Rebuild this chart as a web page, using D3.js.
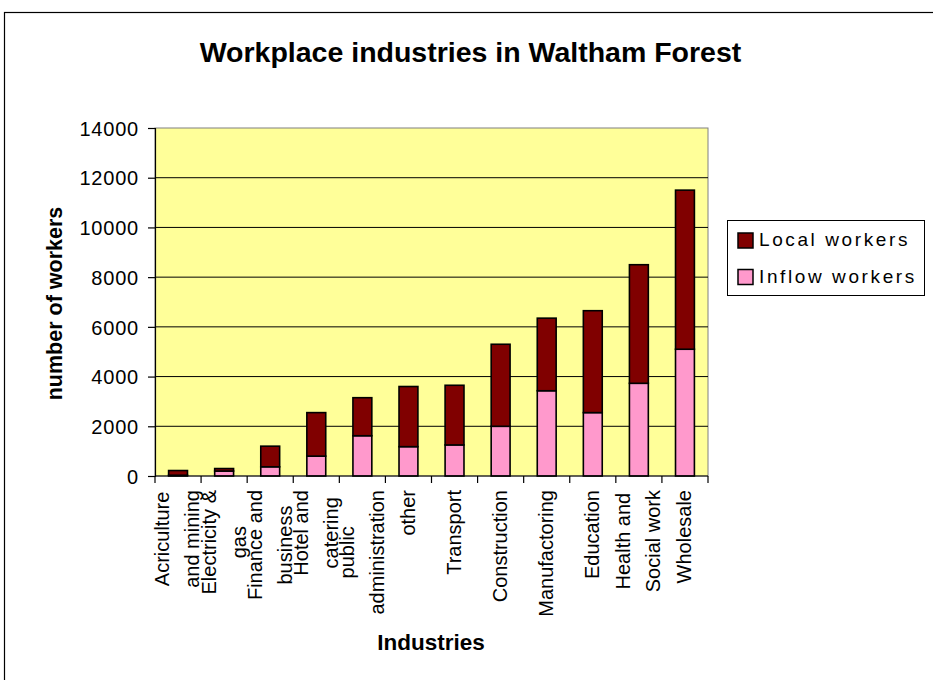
<!DOCTYPE html>
<html><head><meta charset="utf-8">
<script src="https://cdn.jsdelivr.net/npm/d3@7"></script>
<style>body{margin:0;background:#fff}svg{display:block}text{font-family:"Liberation Sans",Arial,sans-serif;fill:#000}</style>
</head><body>
<svg id="c" width="933" height="680"></svg>
<script>
const categories = ["Acriculture and mining","Electricity & gas","Finance and business","Hotel and catering","public administration","other","Transport","Construction","Manufactoring","Education","Health and Social work","Wholesale"];
const labelLines = [["Acriculture","and mining"],["Electricity &","gas"],["Finance and","business"],["Hotel and","catering"],["public","administration"],["other"],["Transport"],["Construction"],["Manufactoring"],["Education"],["Health and","Social work"],["Wholesale"]];
const inflowWorkers = [30, 200, 370, 800, 1620, 1180, 1250, 2000, 3430, 2550, 3730, 5100];
const localWorkers = [190, 100, 830, 1750, 1530, 2420, 2400, 3300, 2920, 4100, 4770, 6400];
const yTicks = [0, 2000, 4000, 6000, 8000, 10000, 12000, 14000];
const seriesNames = ["Local workers", "Inflow workers"];
const colors = {local: "#800000", inflow: "#FF99CC"};

const svg = d3.select("#c");
const L = 155, R = 708, T = 128, B = 476;

// outer frame
svg.append("rect").attr("x",4.5).attr("y",12.5).attr("width",1000).attr("height",1000)
  .attr("fill","#fff").attr("stroke","#000").attr("stroke-width",1.2);

const x = d3.scaleBand().domain(categories).range([L, R]).paddingInner(0.59).paddingOuter(0.295);
const y = d3.scaleLinear().domain([0, 14000]).range([B, T]);

// plot area
svg.append("rect").attr("x",L).attr("y",T).attr("width",R-L).attr("height",B-T)
  .attr("fill","#FFFF99").attr("stroke","#808080").attr("stroke-width",1);

// gridlines
svg.append("g").selectAll("line").data(yTicks.filter(v=>v>0 && v<14000)).join("line")
  .attr("x1",L).attr("x2",R).attr("y1",d=>y(d)).attr("y2",d=>y(d))
  .attr("stroke","#000").attr("stroke-width",1);

// y axis
const yAxis = d3.axisLeft(y).tickValues(yTicks).tickSize(7).tickPadding(9).tickFormat(d3.format("d"));
const gy = svg.append("g").attr("transform",`translate(${L},0)`).call(yAxis);
gy.select(".domain").attr("stroke","#000").attr("stroke-width",1.2);
gy.selectAll(".tick line").attr("stroke","#000").attr("stroke-width",1.2);
gy.selectAll(".tick text").style("font-size","20px").style("letter-spacing","0.8px")
  .style("font-family","'Liberation Sans',Arial,sans-serif").attr("fill","#000").attr("dy","0.36em");

// stacked bars
const rows = categories.map((c,i)=>({cat:c, inflow: inflowWorkers[i], local: localWorkers[i]}));
const stack = d3.stack().keys(["inflow","local"])(rows);
svg.append("g").selectAll("g").data(stack).join("g")
  .attr("fill", d=>colors[d.key])
  .selectAll("rect").data(d=>d).join("rect")
  .attr("x", d=>x(d.data.cat)).attr("width", x.bandwidth())
  .attr("y", d=>y(d[1])).attr("height", d=>y(d[0])-y(d[1]))
  .attr("stroke","#000").attr("stroke-width",1.6);

// x axis
const gx = svg.append("g");
gx.append("line").attr("x1",L).attr("x2",R).attr("y1",B).attr("y2",B).attr("stroke","#000").attr("stroke-width",1.2);
const step = x.step();
const bounds = categories.map(c => x(c) + x.bandwidth()/2 - step/2).concat([x(categories[categories.length-1]) + x.bandwidth()/2 + step/2]);
gx.selectAll("line.tk").data(bounds).join("line").attr("class","tk")
  .attr("x1",d=>d).attr("x2",d=>d).attr("y1",B).attr("y2",B+7).attr("stroke","#000").attr("stroke-width",1.2);

// x labels
const topY = 490;
categories.forEach((c,i)=>{
  const cx = x(c) + x.bandwidth()/2;
  const lines = labelLines[i];
  const g = svg.append("g");
  const t = g.append("text").attr("text-anchor","middle").style("font-size","20px");
  lines.forEach((ln,j)=>{
    t.append("tspan").attr("x",0).attr("y", 6.4 + (j-(lines.length-1)/2)*30).text(ln);
  });
  let maxLen = 0;
  t.selectAll("tspan").each(function(){ maxLen = Math.max(maxLen, this.getComputedTextLength()); });
  t.attr("transform", `translate(0,0)`).selectAll("tspan").attr("x", -maxLen/2);
  g.attr("transform", `translate(${cx},${topY}) rotate(-90)`);
});

// titles
svg.append("text").attr("x",470.5).attr("y",62).attr("text-anchor","middle")
  .style("font-size","28.5px").style("font-weight","bold").text("Workplace industries in Waltham Forest");
svg.append("text").attr("x",431).attr("y",650).attr("text-anchor","middle")
  .style("font-size","22.5px").style("font-weight","bold").text("Industries");
svg.append("text").attr("transform","translate(61.5,303.5) rotate(-90)").attr("text-anchor","middle")
  .style("font-size","21.5px").style("font-weight","bold").text("number of workers");

// legend
const lg = svg.append("g");
lg.append("rect").attr("x",727.5).attr("y",220.5).attr("width",197).attr("height",75)
  .attr("fill","#fff").attr("stroke","#000").attr("stroke-width",1);
const legendKeys = ["local","inflow"];
seriesNames.forEach((n,i)=>{
  lg.append("rect").attr("x",738).attr("y",233 + i*36.5).attr("width",15).attr("height",15)
    .attr("fill",colors[legendKeys[i]]).attr("stroke","#000").attr("stroke-width",1.5);
  lg.append("text").attr("x",759).attr("y",246 + i*36.5).style("font-size","19px")
    .style("letter-spacing","2.6px").text(n);
});
</script>
</body></html>
